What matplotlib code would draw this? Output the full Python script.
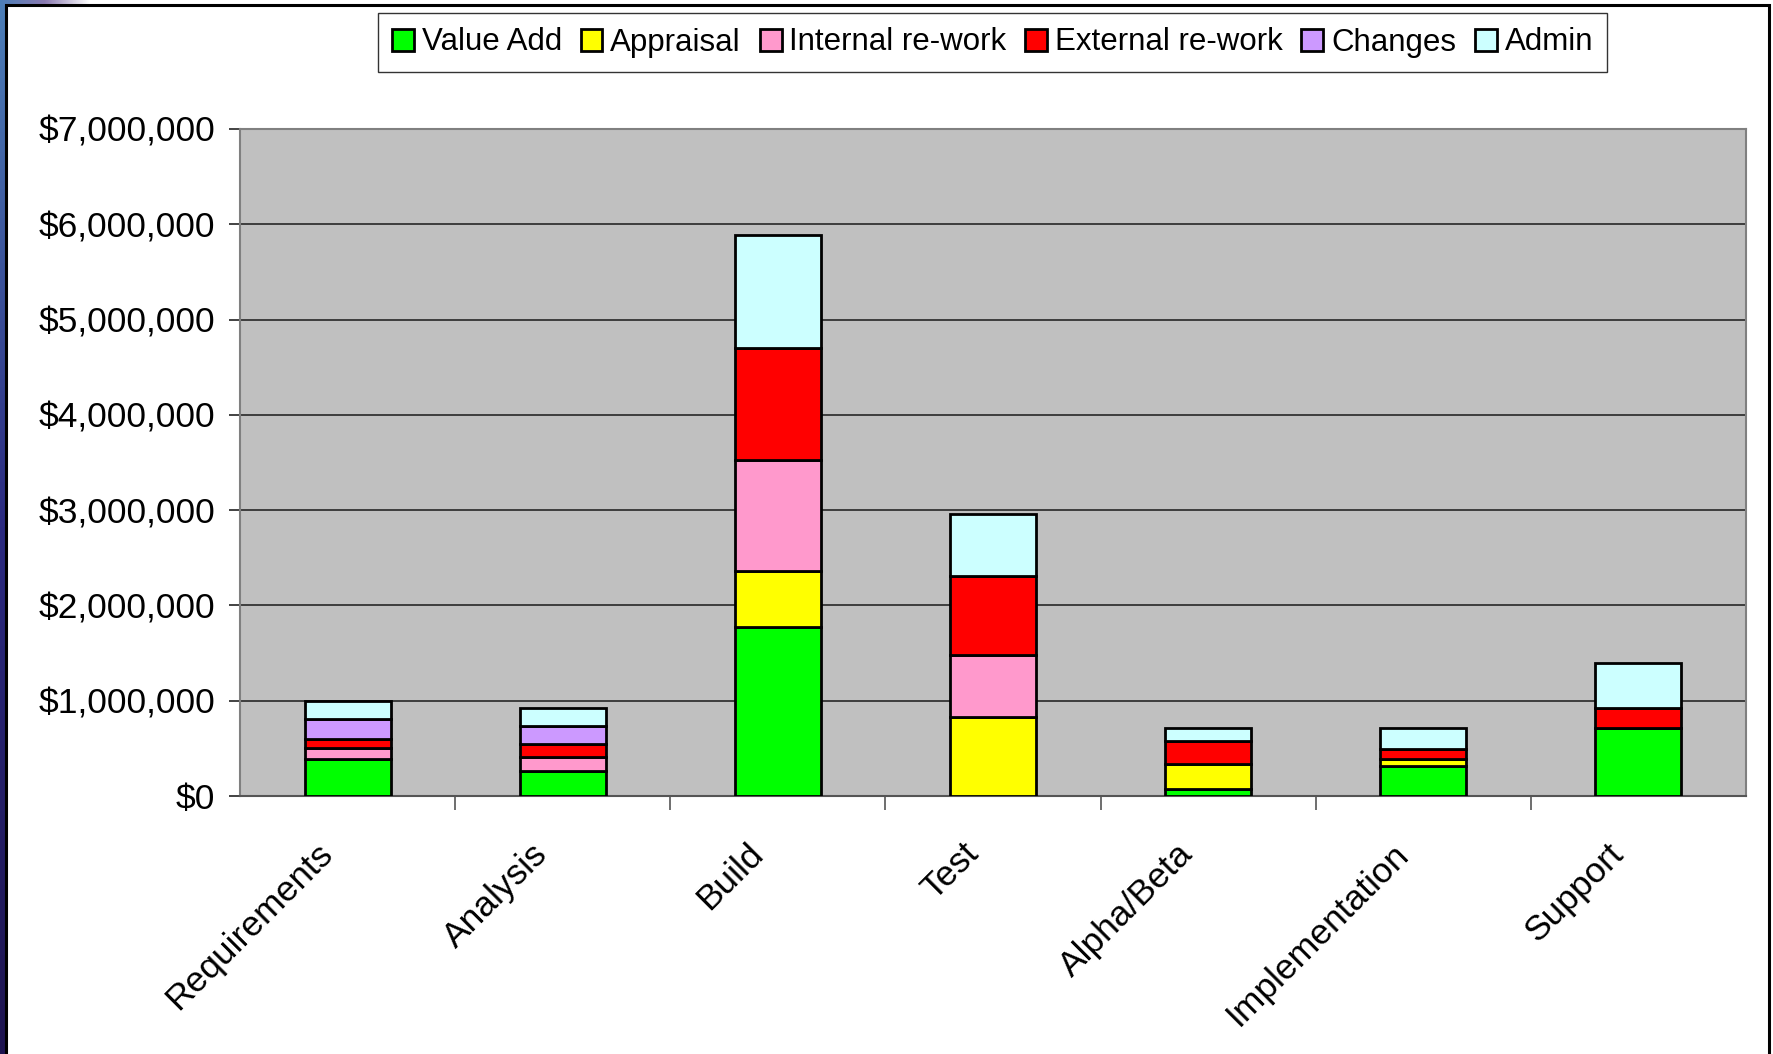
import matplotlib
matplotlib.use("Agg")
import matplotlib.pyplot as plt
import matplotlib.transforms as mtransforms
from matplotlib.patches import Rectangle, Patch
from matplotlib.ticker import FuncFormatter, FixedLocator
from matplotlib.colors import LinearSegmentedColormap
import numpy as np

# phases and cost split (dollars, millions)
phases = ["Requirements", "Analysis", "Build", "Test",
          "Alpha/Beta", "Implementation", "Support"]
series_names = ["Value Add", "Appraisal", "Internal re-work",
                "External re-work", "Changes", "Admin"]
value_add = [0.39, 0.26, 1.77, 0.00, 0.07, 0.31, 0.71]
appraisal = [0.00, 0.00, 0.59, 0.83, 0.265, 0.08, 0.00]
internal_rework = [0.11, 0.15, 1.17, 0.65, 0.00, 0.00, 0.00]
external_rework = [0.10, 0.14, 1.17, 0.83, 0.24, 0.105, 0.215]
changes = [0.21, 0.18, 0.00, 0.00, 0.00, 0.00, 0.00]
admin = [0.19, 0.19, 1.19, 0.65, 0.135, 0.215, 0.475]

colors = ["#00FF00", "#FFFF00", "#FF99CC", "#FF0000", "#CC99FF", "#CCFFFF"]

plt.rcParams["font.family"] = ["Liberation Sans", "DejaVu Sans"]

fig = plt.figure(figsize=(17.73, 10.54), dpi=100)
fig.patch.set_facecolor("white")

# slide background strip on the left and chart frame
strip = fig.add_axes([0, 0, 5 / 1773, 1])
grad = np.linspace(0, 1, 256).reshape(-1, 1)
cmap = LinearSegmentedColormap.from_list("slide", ["#4d7fb8", "#2b2a80", "#1e1450"])
strip.imshow(grad, aspect="auto", cmap=cmap, extent=[0, 1, 0, 1])
strip.axis("off")
corner = fig.add_axes([0, 1 - 5 / 1054, 90 / 1773, 5 / 1054])
corner.imshow(np.linspace(0, 1, 64).reshape(1, -1), aspect="auto",
              cmap=LinearSegmentedColormap.from_list("c", ["#4d7fb8", "#8a7ab0", "#ffffff"]))
corner.axis("off")
fig.patches.append(Rectangle((6 / 1773, -0.01), (1769 - 6) / 1773, 1.01 - 5 / 1054,
                             transform=fig.transFigure, fill=False,
                             edgecolor="black", linewidth=2.2, zorder=5))

ax = fig.add_axes([240 / 1773, 1 - 796 / 1054, (1746 - 240) / 1773, (796 - 129) / 1054])
ax.set_facecolor("#C0C0C0")

data = [value_add, appraisal, internal_rework, external_rework, changes, admin]
x = np.arange(len(phases))
bottom = np.zeros(len(phases))
for name, vals, col in zip(series_names, data, colors):
    vals = np.array(vals) * 1e6
    ax.bar(x, vals, width=0.4, bottom=bottom, color=col,
           edgecolor="black", linewidth=2.0, label=name, zorder=3)
    bottom += vals

ax.set_xlim(-0.5, len(phases) - 0.5)
ax.set_ylim(0, 7e6)
ax.set_yticks(np.arange(0, 7.01e6, 1e6))
ax.yaxis.set_major_formatter(FuncFormatter(lambda v, p: "${:,.0f}".format(v)))
ax.grid(axis="y", color="#1a1a1a", linewidth=1.1, zorder=1)
ax.set_axisbelow(True)

for side in ["top", "right", "left"]:
    ax.spines[side].set_color("#808080")
    ax.spines[side].set_linewidth(1.5)
ax.spines["bottom"].set_color("#555555")
ax.spines["bottom"].set_linewidth(1.5)

ax.tick_params(axis="y", labelsize=25.5, length=8, width=1.2, pad=10, color="#222222")
ax.set_xticks(x)
ax.set_xticklabels(phases, rotation=45, ha="right", va="center",
                   rotation_mode="anchor", fontsize=25.5)
ax.tick_params(axis="x", length=0, pad=38)
ax.xaxis.set_minor_locator(FixedLocator(np.arange(0.5, len(phases) - 0.5, 1)))
ax.tick_params(axis="x", which="minor", length=10, width=1.2, color="#555555")
offset = mtransforms.ScaledTranslation(-20 / 100, 0, fig.dpi_scale_trans)
for lbl in ax.get_xticklabels():
    lbl.set_transform(lbl.get_transform() + offset)

handles = [Patch(facecolor=c, edgecolor="black", linewidth=2.0) for c in colors]
leg = fig.legend(handles, series_names, loc="center", ncol=6,
                 bbox_to_anchor=(992.5 / 1773, 1 - 42.5 / 1054),
                 frameon=True, fancybox=False, shadow=False,
                 prop={"size": 22.5},
                 handlelength=0.7, handleheight=0.7, handletextpad=0.25,
                 columnspacing=0.6, borderpad=0.45)
leg.get_frame().set_edgecolor("black")
leg.get_frame().set_linewidth(1.0)

fig.savefig("out.png", dpi=100)
plt.close(fig)
